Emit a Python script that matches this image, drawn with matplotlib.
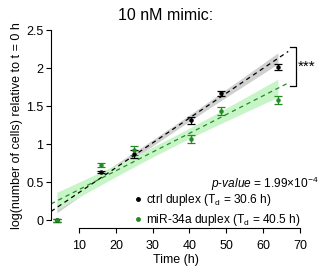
import numpy as np
import matplotlib
matplotlib.use("Agg")
import matplotlib.pyplot as plt
from matplotlib.lines import Line2D

plt.rcParams['font.family'] = ['Liberation Sans', 'DejaVu Sans']
plt.rcParams['mathtext.fontset'] = 'custom'
plt.rcParams['mathtext.rm'] = 'Liberation Sans'
plt.rcParams['mathtext.it'] = 'Liberation Sans:italic'

# ---- data ----
times = [4, 16, 25, 40.5, 48.5, 64]
ctrl_mean = [0.0, 0.63, 0.87, 1.31, 1.665, 2.01]
ctrl_err = [0.02, 0.01, 0.05, 0.04, 0.03, 0.04]
mir_mean = [0.0, 0.725, 0.92, 1.07, 1.435, 1.58]
mir_err = [0.02, 0.03, 0.06, 0.05, 0.05, 0.05]
doubling = [30.6, 40.5]          # T_d (h); fit slope = 1/T_d
intercepts = [0.035, 0.154]      # fit intercepts
band_scale = [0.098, 0.16]       # CI band scale
labels = ["ctrl duplex (T$_\\mathrm{d}$ = 30.6 h)",
          "miR-34a duplex (T$_\\mathrm{d}$ = 40.5 h)"]
pvalue_text = "$\\mathit{p}$-$\\mathit{value}$ = 1.99×10$^{-4}$"
title = "10 nM mimic:"
xticks = [10, 20, 30, 40, 50, 60, 70]
yticks = [0, 0.5, 1, 1.5, 2, 2.5]
ytick_labels = ["0", "0.5", "1", "1.5", "2", "2.5"]

colors = ['black', '#228b22']
band_colors = ['#d0d0d0', '#c8f5c8']

W, H = 323, 267
fig = plt.figure(figsize=(W / 100, H / 100), dpi=100)
ax = fig.add_axes([51 / W, 39 / H, (300 - 51) / W, (244.6 - 39) / H])
ax.set_xlim(2.4, 70)
ax.set_ylim(-0.104, 2.6)

t = np.array(times, dtype=float)
xbar = t.mean()
sxx = ((t - xbar) ** 2).sum()
n = len(t)
xl = np.linspace(2.4, 66.8, 100)
xb = np.linspace(t.min(), t.max(), 100)
series = [(ctrl_mean, ctrl_err), (mir_mean, mir_err)]
for i, (m, e) in enumerate(series):
    slope = 1.0 / doubling[i]
    yb = intercepts[i] + slope * xb
    hw = band_scale[i] * np.sqrt(1 / n + (xb - xbar) ** 2 / sxx)
    ax.fill_between(xb, yb - hw, yb + hw, color=band_colors[i], lw=0, zorder=1)
for i, (m, e) in enumerate(series):
    slope = 1.0 / doubling[i]
    ax.plot(xl, intercepts[i] + slope * xl, color=colors[i], lw=0.9,
            dashes=(3.5, 3), zorder=2)
    ax.errorbar(times, m, yerr=e, fmt='o', ms=2.2, color=colors[i],
                ecolor=colors[i], elinewidth=0.9, capsize=3.2, capthick=0.9,
                zorder=3, clip_on=False)

# significance bracket
ax.plot([67.4, 68.8, 68.8, 67.4], [2.27, 2.27, 1.76, 1.76], color='black', lw=0.9,
        clip_on=False)
ax.text(69.3, 2.02, "***", fontsize=11, va='center', ha='left')

ax.spines['top'].set_visible(False)
ax.spines['right'].set_visible(False)
ax.spines['left'].set_bounds(0, 2.5)
ax.spines['bottom'].set_bounds(10, 70)
ax.set_xticks(xticks)
ax.set_yticks(yticks)
ax.set_yticklabels(ytick_labels)
ax.tick_params(labelsize=9, length=3.5, width=0.8, pad=2)
ax.tick_params(axis='x', pad=5)
ax.set_xlabel("Time (h)", fontsize=9, labelpad=1.5)
ax.set_ylabel("log(number of cells) relative to t = 0 h", fontsize=9, labelpad=2)
fig.text(166 / W, 1 - 15 / H, title, fontsize=11.5, ha='center', va='center')

fig.text(318 / W, 1 - 184 / H, pvalue_text, fontsize=8.6, ha='right', va='center')
handles = [Line2D([], [], ls='none', marker='o', ms=2.5, color=c) for c in colors]
fig.legend(handles, labels, loc='lower left', bbox_to_anchor=(134 / W, 1 - 228 / H),
           frameon=False, fontsize=8.6, handlelength=0.6, handletextpad=0.4,
           labelspacing=0.3, borderpad=0, borderaxespad=0)

fig.savefig("out.png", dpi=100)
